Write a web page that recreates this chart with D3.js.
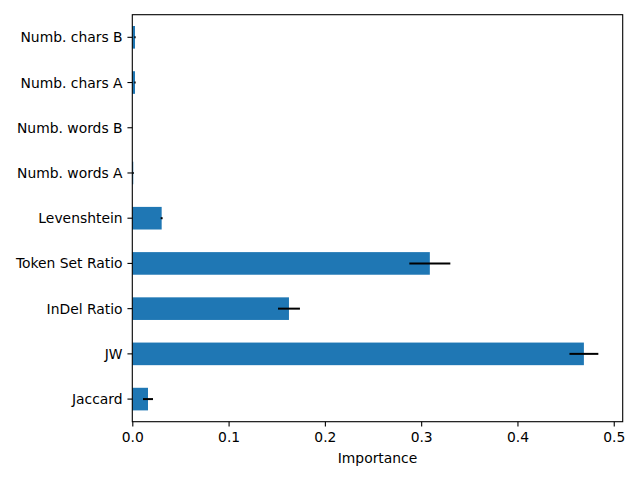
<!DOCTYPE html>
<html>
  <head>
    <script src="https://unpkg.com/d3@7/dist/d3.min.js"></script>
    <style>
      body { margin: 0; background: #fff; }
      svg text { font-family: "DejaVu Sans", sans-serif; font-size: 13.89px; fill: #000; }
    </style>
  </head>
  <body>
    <div id="chart"></div>
    <script>
    // features from bottom to top, as drawn by barh
    var features = ["Jaccard", "JW", "InDel Ratio", "Token Set Ratio", "Levenshtein",
                    "Numb. words A", "Numb. words B", "Numb. chars A", "Numb. chars B"];
    var importance = [0.0163, 0.469, 0.1627, 0.309, 0.0305, 0.001, 0.0, 0.0028, 0.0028];
    var errors = [0.0052, 0.015, 0.0114, 0.0213, 0.001, 0.0005, 0.0, 0.0007, 0.0007];
    var xTicks = [0, 0.1, 0.2, 0.3, 0.4, 0.5];

    var W = 640, H = 480;
    var axLeft = 132.3, axRight = 622.7, axTop = 14.7, axBottom = 421.7;
    var tick = 4.86;

    var svg = d3.select("#chart").append("svg")
      .attr("width", W)
      .attr("height", H);

    var x = d3.scaleLinear()
      .domain([0, 0.5093])
      .range([axLeft, axRight]);

    var y = d3.scaleBand()
      .domain(features)
      .range([axBottom, axTop])
      .paddingInner(0.5)
      .paddingOuter(0.25);

    var data = features.map(function(f, i) {
      return { name: f, value: importance[i], err: errors[i] };
    });

    // bars
    svg.append("g").selectAll("rect")
      .data(data)
      .enter().append("rect")
      .attr("x", x(0))
      .attr("y", d => y(d.name))
      .attr("width", d => x(d.value) - x(0))
      .attr("height", y.bandwidth())
      .attr("fill", "#1f77b4");

    // error bars
    svg.append("g").selectAll("line")
      .data(data.filter(d => d.err > 0))
      .enter().append("line")
      .attr("x1", d => x(d.value - d.err))
      .attr("x2", d => x(d.value + d.err))
      .attr("y1", d => y(d.name) + y.bandwidth() / 2)
      .attr("y2", d => y(d.name) + y.bandwidth() / 2)
      .attr("stroke", "#000")
      .attr("stroke-width", 2);

    // x axis
    var xAxis = d3.axisBottom(x)
      .tickValues(xTicks)
      .tickFormat(d3.format(".1f"))
      .tickSizeInner(tick)
      .tickSizeOuter(0)
      .tickPadding(tick);

    var gx = svg.append("g")
      .attr("transform", "translate(0," + axBottom + ")")
      .call(xAxis);
    gx.select(".domain").remove();
    gx.selectAll("line").attr("stroke", "#000").attr("stroke-width", 1.1);
    gx.selectAll("text").attr("font-size", null).attr("font-family", null).attr("dy", "0.74em");

    // y axis
    var yAxis = d3.axisLeft(y)
      .tickSizeInner(tick)
      .tickSizeOuter(0)
      .tickPadding(tick);

    var gy = svg.append("g")
      .attr("transform", "translate(" + axLeft + ",0)")
      .call(yAxis);
    gy.select(".domain").remove();
    gy.selectAll("line").attr("stroke", "#000").attr("stroke-width", 1.1);
    gy.selectAll("text").attr("font-size", null).attr("font-family", null).attr("dy", "0.36em");

    // frame
    svg.append("rect")
      .attr("x", axLeft)
      .attr("y", axTop)
      .attr("width", axRight - axLeft)
      .attr("height", axBottom - axTop)
      .attr("fill", "none")
      .attr("stroke", "#000")
      .attr("stroke-width", 1.1);

    svg.append("text")
      .attr("x", (axLeft + axRight) / 2)
      .attr("y", 463)
      .attr("text-anchor", "middle")
      .text("Importance");
    </script>
  </body>
</html>
